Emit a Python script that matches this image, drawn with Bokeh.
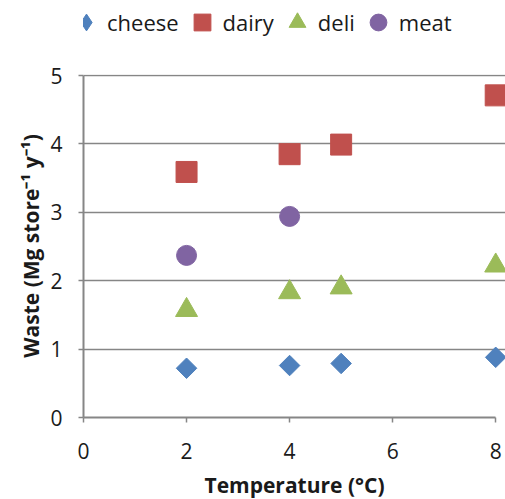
import math
from bokeh.plotting import figure
from bokeh.layouts import column
from bokeh.models import Range1d, FixedTicker, Legend
from bokeh.embed import file_html
from bokeh.resources import INLINE

temps = [2, 4, 5, 8]
meat_temps = [2, 4]
cheese = [0.72, 0.76, 0.79, 0.88]
dairy = [3.59, 3.85, 3.99, 4.71]
deli = [1.57, 1.83, 1.90, 2.22]
meat = [2.37, 2.94]
x_ticks = [0, 2, 4, 6, 8]
y_ticks = [0, 1, 2, 3, 4, 5]
series_names = ["cheese", "dairy", "deli", "meat"]

FONT = "Open Sans"
GRAY = "#868686"
C_CHEESE, C_DAIRY, C_DELI, C_MEAT = "#4F81BD", "#C0504D", "#9BBB59", "#8064A2"

# ---- main chart ----
p = figure(frame_width=422, frame_height=343, output_backend="svg", toolbar_location=None,
           x_range=Range1d(0, 8.19), y_range=Range1d(0, 5.015),
           min_border_left=83, min_border_right=0, min_border_top=29, min_border_bottom=82)
p.outline_line_color = None
p.background_fill_color = "white"
p.border_fill_color = "white"

p.scatter(temps, cheese, marker="square", angle=math.pi / 4, size=14.5, color=C_CHEESE)
p.scatter(temps, dairy, marker="square", size=21, color=C_DAIRY)
p.scatter(temps, deli, marker="triangle", size=22, color=C_DELI)
p.scatter(meat_temps, meat, marker="circle", size=20, color=C_MEAT)

p.xaxis.ticker = FixedTicker(ticks=x_ticks)
p.yaxis.ticker = FixedTicker(ticks=y_ticks)
p.xaxis.bounds = (0, 8)
p.yaxis.bounds = (0, 5)
for ax in (p.xaxis, p.yaxis):
    ax.axis_line_color = GRAY
    ax.axis_line_width = 2
    ax.major_tick_line_color = GRAY
    ax.major_tick_line_width = 1.5
    ax.major_tick_out = 5
    ax.major_tick_in = 0
    ax.minor_tick_line_color = None
    ax.major_label_text_font = FONT
    ax.major_label_text_font_size = "21px"
    ax.major_label_text_color = "#1a1a1a"
    ax.axis_label_text_font = FONT
    ax.axis_label_text_font_size = "21px"
    ax.axis_label_text_font_style = "bold"
    ax.axis_label_text_color = "#1a1a1a"

p.xaxis.major_label_standoff = 20
p.yaxis.major_label_standoff = 16
p.xaxis.axis_label = "Temperature (°C)"
p.yaxis.axis_label = "Waste (Mg store⁻¹ y⁻¹)"
p.xaxis.axis_label_standoff = 9
p.yaxis.axis_label_standoff = 2

p.xgrid.grid_line_color = None
p.ygrid.grid_line_color = GRAY
p.ygrid.grid_line_width = 1.5
p.ygrid.bounds = (0, 8)

# ---- legend strip on top ----
lg = figure(width=505, height=45, output_backend="svg", toolbar_location=None,
            x_axis_type=None, y_axis_type=None,
            x_range=Range1d(0, 1), y_range=Range1d(-2, -1),
            min_border_left=0, min_border_right=0, min_border_top=0, min_border_bottom=0)
lg.outline_line_color = None
lg.xgrid.visible = False
lg.ygrid.visible = False
lg.background_fill_color = "white"
lg.border_fill_color = "white"

l1 = lg.scatter(temps, cheese, marker="diamond", size=14, color=C_CHEESE)
l2 = lg.scatter(temps, dairy, marker="square", size=21, color=C_DAIRY)
l3 = lg.scatter(temps, deli, marker="triangle", size=22, color=C_DELI)
l4 = lg.scatter(meat_temps, meat, marker="circle", size=20, color=C_MEAT)

legend = Legend(items=list(zip(series_names, [[l1], [l2], [l3], [l4]])),
                orientation="horizontal", location=(-18, 2),
                label_text_font=FONT, label_text_font_size="22px", label_text_color="#1a1a1a",
                border_line_color=None, background_fill_alpha=0,
                glyph_width=42, glyph_height=42, spacing=2, label_standoff=-18,
                padding=0, margin=0)
lg.add_layout(legend)

layout = column(lg, p, spacing=0)
open("out.html", "w").write(file_html(layout, INLINE))
